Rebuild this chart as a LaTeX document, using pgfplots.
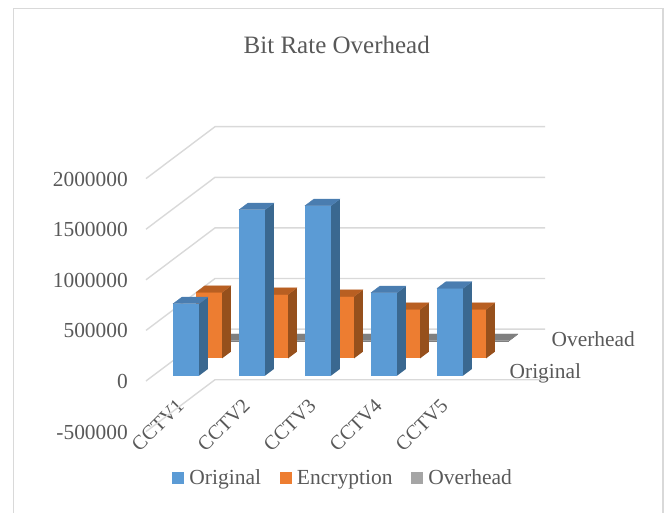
\documentclass[border=0pt]{standalone}
\usepackage{pgfplots}
\usepackage{fontspec}
\pgfplotsset{compat=1.18}
\setmainfont{Liberation Serif}
\definecolor{txt}{HTML}{595959}
\definecolor{gridc}{HTML}{D9D9D9}
\definecolor{blueF}{HTML}{5B9BD5}
\definecolor{blueS}{HTML}{3A6890}
\definecolor{blueT}{HTML}{4A7DB0}
\definecolor{orgF}{HTML}{ED7D31}
\definecolor{orgS}{HTML}{96501C}
\definecolor{orgT}{HTML}{B85F22}
\definecolor{grayF}{HTML}{A5A5A5}
\definecolor{grayS}{HTML}{636363}
\definecolor{grayT}{HTML}{7F7F7F}
% One 3D column: slot #1 along the categories, slot #2 along the series, height #3
\newcommand{\column}[6]{%
  \pgfmathsetmacro{\xa}{#1+0.303}\pgfmathsetmacro{\xb}{#1+0.697}%
  \pgfmathsetmacro{\ya}{#2+0.311}\pgfmathsetmacro{\yb}{#2+0.689}%
  \edef\doface{\noexpand\addplot3[fill=#4,draw=none,forget plot] coordinates {(\xa,\ya,0) (\xb,\ya,0) (\xb,\ya,#3) (\xa,\ya,#3)} --cycle;}\doface
  \edef\doface{\noexpand\addplot3[fill=#5,draw=none,forget plot] coordinates {(\xb,\ya,0) (\xb,\yb,0) (\xb,\yb,#3) (\xb,\ya,#3)} --cycle;}\doface
  \edef\doface{\noexpand\addplot3[fill=#6,draw=#6,line width=0.3pt,forget plot] coordinates {(\xa,\ya,#3) (\xb,\ya,#3) (\xb,\yb,#3) (\xa,\yb,#3)} --cycle;}\doface
}
\newcommand{\gridat}[1]{%
  \addplot3[gridc,line width=1.4pt,forget plot] coordinates {(0,0,#1) (0,3,#1) (5,3,#1)};
}
\begin{document}
\begin{tikzpicture}[x=1pt,y=1pt]
\useasboundingbox (0,0) rectangle (664,512);
\draw[gridc,line width=1.4pt] (13.5,-5) -- (13.5,503.5) -- (663,503.5) -- (663,-5);
\begin{axis}[
  at={(146pt,131pt)},anchor=origin,
  x={(66pt,0pt)},y={(23pt,17.3pt)},z={(0pt,50.6pt)},
  xmin=0,xmax=5,ymin=0,ymax=3,zmin=-1,zmax=4,
  z filter/.code={\pgfmathparse{#1/500000}},
  clip=false,
  axis line style={draw=none},
  tick style={draw=none},
  major tick length=0pt,
  grid=none,
  xtick={0.5,1.5,2.5,3.5,4.5},
  xticklabels={CCTV1,CCTV2,CCTV3,CCTV4,CCTV5},
  ytick={0.5,2.5},
  yticklabels={Original,\hspace*{-4pt}Overhead},
  ztick={-1,0,1,2,3,4},
  zticklabels={-500000,0,500000,1000000,1500000,2000000},
  tick label style={font=\fontsize{21.4}{21.4}\selectfont,text=txt},
  x tick label style={font=\fontsize{20.3}{20.3}\selectfont,rotate=45,anchor=north east,xshift=22pt,yshift=26.8pt,inner sep=0pt},
  y tick label style={anchor=west,xshift=22pt,yshift=49.6pt,inner sep=0pt},
  z tick label style={anchor=east,xshift=-18pt,yshift=-0.5pt,inner sep=0pt},
  title={Bit Rate Overhead},
  title style={at={(axis cs:2.89,0,6.52)},anchor=center,font=\fontsize{25}{25}\selectfont,text=txt},
  legend columns=3,
  legend style={at={(axis cs:2.985,0,-1.917)},anchor=center,draw=none,fill=none,
    font=\fontsize{21.5}{21.5}\selectfont,text=txt,
    /tikz/every even column/.append style={column sep=16.5pt}},
  legend image code/.code={\fill[#1] (0pt,-5.5pt) rectangle (11pt,5.5pt);\path (15pt,0pt);},
]
% gridlines on the two walls
\gridat{-500000}\gridat{0}\gridat{500000}\gridat{1000000}\gridat{1500000}\gridat{2000000}
% Overhead, back row
\column{0}{2}{5000}{grayT}{grayS}{grayT}
\column{1}{2}{5000}{grayT}{grayS}{grayT}
\column{2}{2}{5000}{grayT}{grayS}{grayT}
\column{3}{2}{5000}{grayT}{grayS}{grayT}
\column{4}{2}{5000}{grayT}{grayS}{grayT}
% Encryption, middle row
\column{0}{1}{652000}{orgF}{orgS}{orgT}
\column{1}{1}{632000}{orgF}{orgS}{orgT}
\column{2}{1}{612000}{orgF}{orgS}{orgT}
\column{3}{1}{484000}{orgF}{orgS}{orgT}
\column{4}{1}{484000}{orgF}{orgS}{orgT}
% Original, front row
\column{0}{0}{711000}{blueF}{blueS}{blueT}
\column{1}{0}{1640000}{blueF}{blueS}{blueT}
\column{2}{0}{1680000}{blueF}{blueS}{blueT}
\column{3}{0}{820000}{blueF}{blueS}{blueT}
\column{4}{0}{863000}{blueF}{blueS}{blueT}
\addlegendimage{blueF}\addlegendentry{Original}
\addlegendimage{orgF}\addlegendentry{Encryption}
\addlegendimage{grayF}\addlegendentry{Overhead}
\end{axis}
\end{tikzpicture}
\end{document}
